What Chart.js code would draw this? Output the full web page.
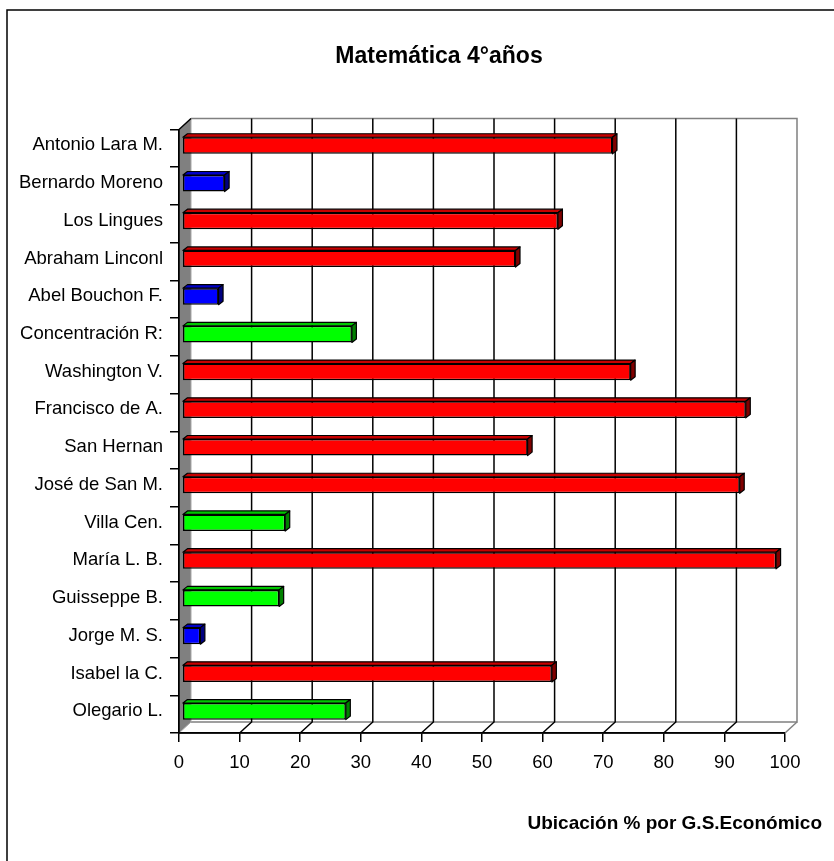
<!DOCTYPE html>
<html>
<head>
<meta charset="utf-8">
<title>Matemática 4°años</title>
<script src="https://cdn.jsdelivr.net/npm/chart.js@4"></script>
<style>
  body { margin: 0; background: #fff; }
  canvas { display: block; }
</style>
</head>
<body>
<canvas id="chart" width="834" height="861"></canvas>
<script>
// datos (de arriba hacia abajo)
const escuelas = [
  "Antonio Lara M.", "Bernardo Moreno", "Los Lingues", "Abraham Linconl",
  "Abel Bouchon F.", "Concentración R:", "Washington V.", "Francisco de A.",
  "San Hernan", "José de San M.", "Villa Cen.", "María L. B.",
  "Guisseppe B.", "Jorge M. S.", "Isabel la C.", "Olegario L."
];
const ubicacion = [71, 7, 62, 55, 6, 28, 74, 93, 57, 92, 17, 98, 16, 3, 61, 27];
// grupo socioeconómico de cada escuela (1, 2 o 3)
const grupo = [1, 2, 1, 1, 2, 3, 1, 1, 1, 1, 3, 1, 3, 2, 1, 3];
const ticksX = [0, 10, 20, 30, 40, 50, 60, 70, 80, 90, 100];

const titulo = "Matemática 4°años";
const tituloEje = "Ubicación % por G.S.Económico";

// frente, tapa, lado
const colores = {
  1: ["#FF0000", "#C80000", "#800000"],
  2: ["#0000FF", "#0000C8", "#000080"],
  3: ["#00FF00", "#00C800", "#008000"]
};

const FONT = '"Liberation Sans", Arial, sans-serif';
const DX = 12, DY = -11;        // profundidad de las paredes
const BDX = 4.5, BDY = -3.5;    // profundidad de cada barra
const SX = 3.2, SY = -2.8;      // desplazamiento de las barras hacia el fondo

const efecto3d = {
  id: "efecto3d",
  beforeDraw(c) {
    const ctx = c.ctx;
    ctx.save();
    ctx.fillStyle = "#fff";
    ctx.fillRect(0, 0, c.width, c.height);
    ctx.strokeStyle = "#000";
    ctx.lineWidth = 1.5;
    ctx.strokeRect(7, 10, 900, 900);
    ctx.fillStyle = "#000";
    ctx.font = "bold 23px " + FONT;
    ctx.textAlign = "center";
    ctx.fillText(titulo, 439, 63);
    ctx.font = "bold 19px " + FONT;
    ctx.textAlign = "right";
    ctx.fillText(tituloEje, 822, 829);
    ctx.restore();
  },
  beforeDatasetsDraw(c) {
    const { ctx, chartArea: a, scales: { x } } = c;
    const L = a.left, R = a.right, T = a.top, B = a.bottom;
    ctx.save();
    // pared del fondo
    ctx.fillStyle = "#fff";
    ctx.fillRect(L + DX, T + DY, R - L, B - T);
    ctx.strokeStyle = "#808080";
    ctx.lineWidth = 1.5;
    ctx.beginPath();
    ctx.moveTo(L + DX, T + DY);
    ctx.lineTo(R + DX, T + DY);
    ctx.lineTo(R + DX, B + DY);
    ctx.lineTo(L + DX, B + DY);
    ctx.stroke();
    // diagonal del piso a la derecha
    ctx.beginPath();
    ctx.moveTo(R, B);
    ctx.lineTo(R + DX, B + DY);
    ctx.stroke();
    // líneas de división en el fondo y en el piso
    ctx.strokeStyle = "#000";
    ticksX.forEach(v => {
      if (v === 0 || v === 100) return;
      const px = x.getPixelForValue(v);
      ctx.beginPath();
      ctx.moveTo(px + DX, T + DY);
      ctx.lineTo(px + DX, B + DY);
      ctx.lineTo(px, B);
      ctx.stroke();
    });
    // pared izquierda
    ctx.fillStyle = "#808080";
    ctx.beginPath();
    ctx.moveTo(L, T);
    ctx.lineTo(L + DX, T + DY);
    ctx.lineTo(L + DX, B + DY);
    ctx.lineTo(L, B);
    ctx.closePath();
    ctx.fill();
    ctx.strokeStyle = "#a8a8a8";
    ctx.lineWidth = 1;
    ctx.beginPath();
    ctx.moveTo(L + DX, T + DY);
    ctx.lineTo(L + DX, B + DY);
    ctx.lineTo(L, B);
    ctx.stroke();
    ctx.strokeStyle = "#000";
    ctx.lineWidth = 1.5;
    ctx.beginPath();
    ctx.moveTo(L + DX, T + DY);
    ctx.lineTo(L, T);
    ctx.lineTo(L, B);
    ctx.lineTo(R, B);
    ctx.stroke();
    ctx.restore();

    // las barras se dibujan un poco hacia el fondo
    ctx.save();
    ctx.translate(SX, SY);
  },
  afterDatasetsDraw(c) {
    const ctx = c.ctx;
    const meta = c.getDatasetMeta(0);
    ctx.lineWidth = 1.2;
    ctx.lineJoin = "round";
    ctx.strokeStyle = "#000";
    meta.data.forEach((bar, i) => {
      const { x, y, base, height } = bar.getProps(["x", "y", "base", "height"], true);
      const top = y - height / 2;
      const col = colores[grupo[i]];
      ctx.beginPath();
      ctx.moveTo(base, top);
      ctx.lineTo(base + BDX, top + BDY);
      ctx.lineTo(x + BDX, top + BDY);
      ctx.lineTo(x, top);
      ctx.closePath();
      ctx.fillStyle = col[1];
      ctx.fill();
      ctx.stroke();
      ctx.beginPath();
      ctx.moveTo(x, top);
      ctx.lineTo(x + BDX, top + BDY);
      ctx.lineTo(x + BDX, top + height + BDY);
      ctx.lineTo(x, top + height);
      ctx.closePath();
      ctx.fillStyle = col[2];
      ctx.fill();
      ctx.stroke();
    });
    ctx.restore();
  }
};

const ctx = document.getElementById("chart").getContext("2d");
new Chart(ctx, {
  type: "bar",
  data: {
    labels: escuelas,
    datasets: [{
      data: ubicacion,
      backgroundColor: grupo.map(g => colores[g][0]),
      borderColor: "#000",
      borderWidth: 1.5,
      borderSkipped: false,
      barPercentage: 0.44,
      categoryPercentage: 1,
      clip: false
    }]
  },
  options: {
    indexAxis: "y",
    responsive: false,
    animation: false,
    layout: { padding: { top: 129.5, right: 49, left: 0, bottom: 0 } },
    plugins: {
      legend: { display: false },
      tooltip: { enabled: false },
      title: { display: false }
    },
    scales: {
      x: {
        min: 0,
        max: 100,
        afterBuildTicks: s => { s.ticks = ticksX.map(v => ({ value: v })); },
        afterFit: s => { s.height = 128; },
        grid: { drawOnChartArea: false, color: "#000", lineWidth: 1.5, tickLength: 9 },
        border: { color: "#000", width: 1.5 },
        ticks: { color: "#000", font: { family: FONT, size: 18.5 }, padding: 10, maxRotation: 0 }
      },
      y: {
        afterFit: s => { s.width = 179; },
        grid: { drawOnChartArea: false, color: "#000", lineWidth: 1.5, tickLength: 9, offset: true },
        border: { color: "#000", width: 1.5 },
        ticks: { color: "#000", font: { family: FONT, size: 18.5 }, padding: 7, labelOffset: -3 }
      }
    }
  },
  plugins: [efecto3d]
});
</script>
</body>
</html>
